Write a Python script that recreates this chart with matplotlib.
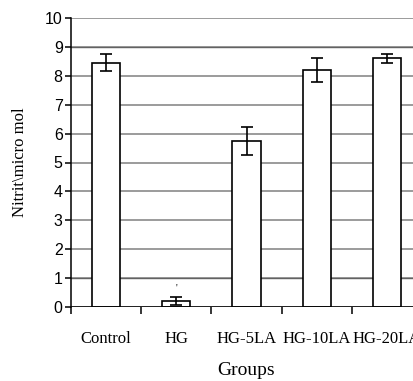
import matplotlib
matplotlib.use("Agg")
import matplotlib.pyplot as plt
import numpy as np

groups = ["Control", "HG", "HG-5LA", "HG-10LA", "HG-20LA"]
means = [8.45, 0.2, 5.75, 8.2, 8.6]
errors = [0.29, 0.14, 0.49, 0.4, 0.16]

W, H = 413, 381
fig = plt.figure(figsize=(W / 100, H / 100), dpi=100)
ax = fig.add_axes([71 / W, (H - 307) / H, (422 - 71) / W, (307 - 18) / H])

x = np.arange(len(groups))
ax.bar(x, means, width=0.4, color="white", edgecolor="black", linewidth=1.2, zorder=3)
ax.errorbar(x, means, yerr=errors, fmt="none", ecolor="black", elinewidth=1.2,
            capsize=4, capthick=1.2, zorder=4)
# small mark above HG
ax.text(1, 0.5, "'", ha="center", va="bottom", fontsize=7, family="Liberation Serif")

ax.set_xlim(-0.5, len(groups) - 0.5)
ax.set_ylim(0, 10)
ax.set_yticks(range(0, 11))
ax.yaxis.grid(True, color="#808080", linewidth=1.1, zorder=0)
for yv in (1, 9):
    ax.axhline(yv, color="black", linewidth=0.9, zorder=1)
for spine in ["top", "right", "bottom"]:
    ax.spines[spine].set_visible(False)
ax.spines["left"].set_linewidth(1.1)
ax.axhline(0, color="black", linewidth=1.1, zorder=5)

ax.set_xticks(np.arange(-0.5, len(groups)), minor=False)
ax.set_xticklabels([])
ax.set_xticks(x, minor=True)
ax.set_xticklabels(groups, minor=True, family="Liberation Serif", fontsize=12)
ax.tick_params(axis="x", which="minor", length=0, pad=17)
ax.tick_params(axis="x", which="major", length=5, width=1.1, direction="out")
ax.tick_params(axis="y", length=4, width=1.1, direction="out", pad=2, labelsize=11.5)
for lab in ax.get_yticklabels():
    lab.set_family("Liberation Sans")

ax.set_xlabel("Groups", family="Liberation Serif", fontsize=14, labelpad=11)
ax.set_ylabel("Nitrit\\micro mol", family="Liberation Serif", fontsize=12, labelpad=12)

fig.savefig("out.png", dpi=100)
